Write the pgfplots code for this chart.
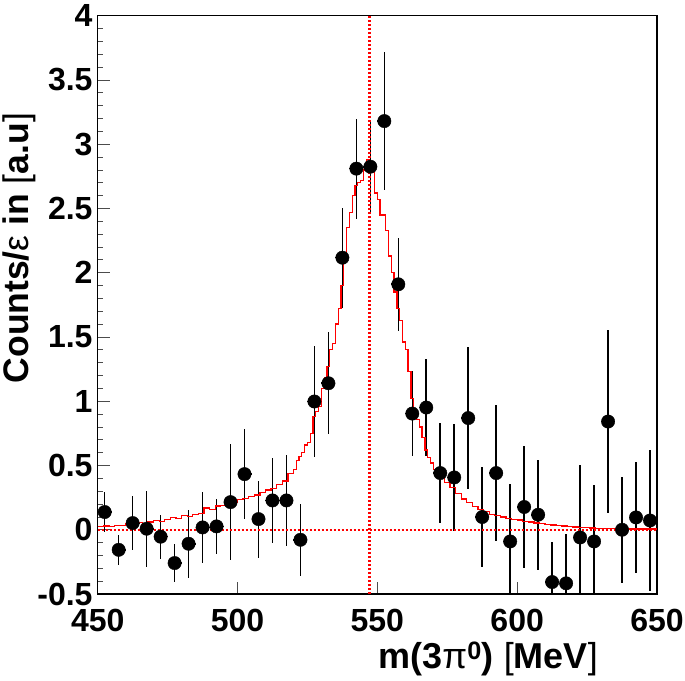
\documentclass[border=0pt]{standalone}
\usepackage{fontspec}
\setmainfont{Liberation Sans}
\usepackage{pgfplots}
\usepackage{pgfplotstable}
\pgfplotsset{compat=1.18}

\pgfplotstableread{
x y ex ey
452.5 0.138 2.5 0.155
457.5 -0.156 2.5 0.117
462.5 0.052 2.5 0.207
467.5 0.008 2.5 0.294
472.5 -0.054 2.5 0.172
477.5 -0.259 2.5 0.149
482.5 -0.109 2.5 0.266
487.5 0.018 2.5 0.275
492.5 0.026 2.5 0.213
497.5 0.215 2.5 0.450
502.5 0.433 2.5 0.350
507.5 0.083 2.5 0.300
512.5 0.228 2.5 0.328
517.5 0.228 2.5 0.354
522.5 -0.078 2.5 0.279
527.5 0.998 2.5 0.435
532.5 1.140 2.5 0.397
537.5 2.117 2.5 0.390
542.5 2.810 2.5 0.390
547.5 2.825 2.5 0.360
552.5 3.180 2.5 0.540
557.5 1.910 2.5 0.360
562.5 0.904 2.5 0.330
567.5 0.951 2.5 0.378
572.5 0.441 2.5 0.387
577.5 0.407 2.5 0.417
582.5 0.869 2.5 0.553
587.5 0.099 2.5 0.389
592.5 0.441 2.5 0.529
597.5 -0.091 2.5 0.446
602.5 0.177 2.5 0.476
607.5 0.117 2.5 0.428
612.5 -0.407 2.5 0.311
617.5 -0.417 2.5 0.386
622.5 -0.060 2.5 0.565
627.5 -0.091 2.5 0.441
632.5 0.842 2.5 0.713
637.5 0.000 2.5 0.411
642.5 0.096 2.5 0.429
647.5 0.072 2.5 0.550
}\datatable

\pgfplotstableread{
x y
450 0.025
452 0.030
454 0.028
456 0.035
458 0.032
460 0.045
462 0.040
464 0.055
466 0.050
468 0.060
470 0.070
472 0.065
474 0.080
476 0.095
478 0.090
480 0.110
482 0.105
484 0.120
486 0.125
488 0.170
490 0.160
492 0.185
494 0.190
496 0.205
498 0.215
500 0.235
502 0.245
504 0.260
506 0.270
508 0.290
510 0.310
512 0.320
514 0.350
516 0.380
518 0.440
520 0.470
521 0.540
522 0.570
523 0.600
524 0.660
525 0.680
526 0.750
527 0.880
528 0.920
529 0.960
530 1.100
531 1.180
532 1.270
533 1.400
534 1.450
535 1.600
536 1.720
537 1.900
538 2.130
539 2.350
540 2.470
541 2.600
542 2.680
543 2.700
544 2.720
545 2.800
546 2.880
547 2.840
548 2.800
549 2.620
550 2.570
551 2.450
552 2.450
553 2.330
554 2.130
555 2.000
556 1.850
557 1.720
558 1.630
559 1.460
560 1.400
561 1.230
562 1.020
563 0.930
564 0.860
565 0.800
566 0.720
567 0.620
568 0.560
569 0.520
570 0.470
571 0.440
572 0.410
574 0.370
576 0.330
578 0.280
580 0.240
582 0.210
584 0.180
586 0.160
588 0.140
590 0.120
592 0.110
594 0.100
596 0.090
598 0.080
600 0.075
602 0.065
604 0.060
606 0.052
608 0.048
610 0.042
612 0.036
614 0.034
616 0.030
618 0.024
620 0.022
622 0.018
624 0.016
626 0.014
628 0.012
630 0.010
634 0.008
640 0.006
646 0.005
650 0.005
}\histtable

\pgfplotstableread{
x y
547.2 -0.5
547.2 4
}\etaline

\begin{document}
\begin{tikzpicture}
\useasboundingbox (0,5pt) rectangle (685pt,-675pt);
\begin{axis}[
  at={(97.7pt,-589pt)}, anchor=south west,
  scale only axis, width=559.3pt, height=578.3pt,
  xmin=450, xmax=650, ymin=-0.5, ymax=4,
  axis line style={line width=1.2pt},
  xtick={450,500,550,600,650},
  xticklabels={450,500,550,600,650},
  ytick={-0.5,0,0.5,1,1.5,2,2.5,3,3.5,4},
  yticklabels={-0.5,0,0.5,1,1.5,2,2.5,3,3.5,4},
  minor y tick num=4,
  tick align=inside,
  xtick pos=bottom, ytick pos=left,
  major tick length=12pt, minor tick length=5pt,
  tick style={line width=0.8pt, black!70},
  ticklabel style={font=\fontsize{32}{36}\selectfont\bfseries, inner sep=0pt},
  yticklabel style={xshift=-5pt},
  xticklabel style={yshift=-15pt},
  xlabel={m(3{\mdseries π}\textsuperscript{0}) {\mdseries[}MeV{\mdseries]}},
  xlabel style={at={(axis description cs:0.8945,-0.128)}, anchor=base east, font=\fontsize{36}{40}\selectfont\bfseries, inner sep=0pt},
  ylabel={Counts/{\mdseries ε} in {\mdseries[}a.u{\mdseries]}},
  ylabel style={at={(axis description cs:-0.1395,0.598)}, anchor=center, font=\fontsize{35.5}{40}\selectfont\bfseries, inner sep=0pt},
]
\addplot[only marks, mark=*, mark size=6.7pt, black,
  error bars/.cd, y dir=both, y explicit, x dir=both, x explicit,
  error bar style={line width=1.6pt, black}, error mark=none]
  table[x=x, y=y, x error=ex, y error=ey]{\datatable};
\addplot[const plot, red, line width=1.3pt] table[x=x, y=y]{\histtable};
\addplot[red, line width=1.6pt, dash pattern=on 2pt off 2pt] coordinates {(450,0) (650,0)};
\addplot[red, line width=2.2pt, dash pattern=on 2pt off 2pt, mark=none] table[x=x, y=y]{\etaline};
\end{axis}
\end{tikzpicture}
\end{document}
